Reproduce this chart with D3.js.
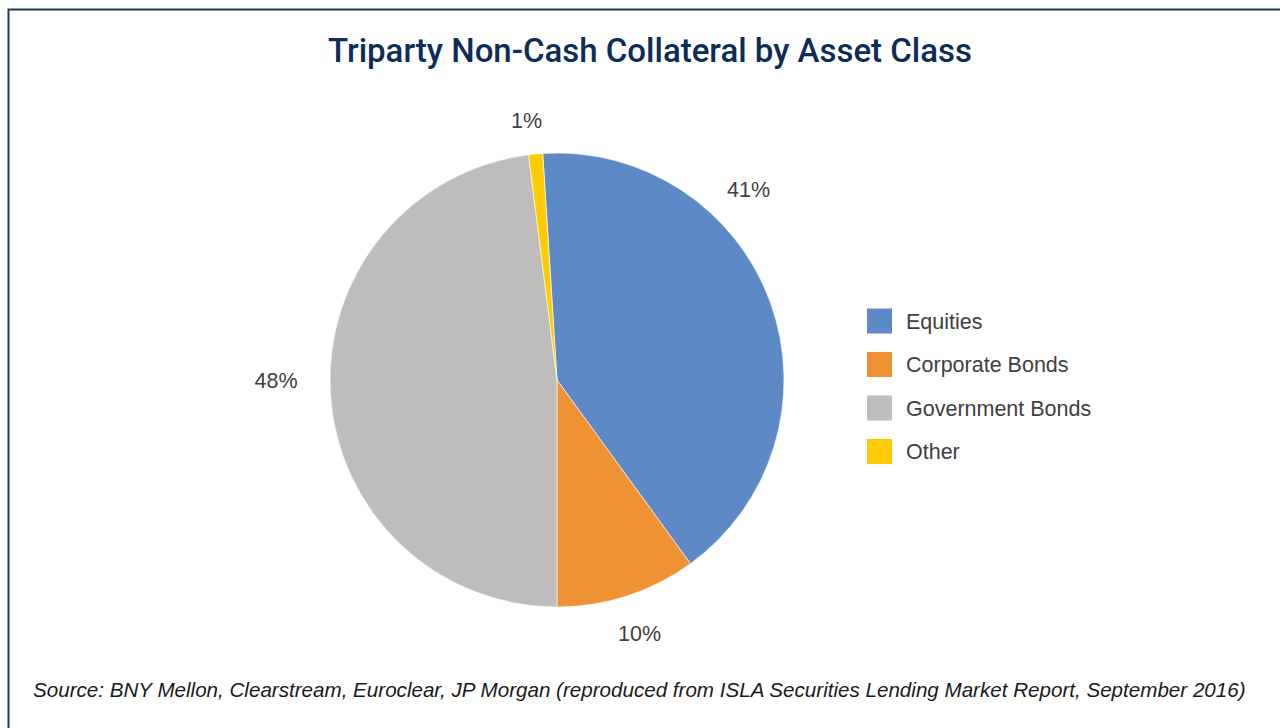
<!DOCTYPE html>
<html>
<head>
<meta charset="utf-8">
<script src="https://cdn.jsdelivr.net/npm/d3@7"></script>
<style>
  body { margin: 0; background: #fff; }
  svg { display: block; }
</style>
</head>
<body>
<script>
// data
var categories = ["Equities", "Corporate Bonds", "Government Bonds", "Other"];
var shares = [41, 10, 48, 1];
var colors = ["#5d8ac6", "#ef9234", "#bebdbc", "#fecb05"];

var W = 1280, H = 728;
var cx = 557, cy = 380, radius = 227;

var svg = d3.select("body").append("svg")
    .attr("width", W)
    .attr("height", H);

// frame: only top and left edges show
svg.append("path")
    .attr("d", "M8.5," + H + " V9.5 H" + W)
    .attr("fill", "none")
    .attr("stroke", "#1e3a62")
    .attr("stroke-width", 2);

svg.append("text")
    .attr("x", 650)
    .attr("y", 62)
    .attr("text-anchor", "middle")
    .attr("font-family", "Roboto, 'Liberation Sans', Arial, sans-serif")
    .attr("font-weight", 500)
    .attr("font-size", "33px")
    .attr("fill", "#0d2c57")
    .text("Triparty Non-Cash Collateral by Asset Class");

var data = categories.map(function(c, i) {
    return {name: c, value: shares[i], color: colors[i]};
});

// Excel style first-slice angle, slightly left of 12 o'clock
var start = -3.6 * Math.PI / 180;
var pie = d3.pie()
    .sort(null)
    .value(function(d) { return d.value; })
    .startAngle(start)
    .endAngle(start + 2 * Math.PI);

var arc = d3.arc().innerRadius(0).outerRadius(radius);

var g = svg.append("g")
    .attr("transform", "translate(" + cx + "," + cy + ")");

var arcs = pie(data);

g.selectAll("path.slice")
    .data(arcs)
    .enter()
    .append("path")
    .attr("class", "slice")
    .attr("d", arc)
    .attr("fill", function(d) { return d.data.color; })
    .attr("stroke", "#fff")
    .attr("stroke-width", 0.6);

// outside labels; the big first slice label is pulled up towards the top
var labelNudge = [-25, 0, 3.6, -1.3];
var labelDist = [270, 267, 281, 261];
g.selectAll("text.lbl")
    .data(arcs)
    .enter()
    .append("text")
    .attr("class", "lbl")
    .attr("x", function(d, i) {
        var a = (d.startAngle + d.endAngle) / 2 + labelNudge[i] * Math.PI / 180;
        return Math.sin(a) * labelDist[i];
    })
    .attr("y", function(d, i) {
        var a = (d.startAngle + d.endAngle) / 2 + labelNudge[i] * Math.PI / 180;
        return -Math.cos(a) * labelDist[i];
    })
    .attr("dy", "0.35em")
    .attr("text-anchor", "middle")
    .attr("font-family", "'Liberation Sans', Arial, sans-serif")
    .attr("font-size", "21.5px")
    .attr("fill", "#404040")
    .text(function(d) { return d.data.value + "%"; });

// legend
var legend = svg.append("g")
    .attr("transform", "translate(867,321)");

var item = legend.selectAll("g")
    .data(data)
    .enter()
    .append("g")
    .attr("transform", function(d, i) { return "translate(0," + (i * 43.5) + ")"; });

item.append("rect")
    .attr("x", 0)
    .attr("y", -12.5)
    .attr("width", 25)
    .attr("height", 25)
    .attr("fill", function(d) { return d.color; });

item.append("text")
    .attr("x", 39)
    .attr("dy", "0.35em")
    .attr("font-family", "'Liberation Sans', Arial, sans-serif")
    .attr("font-size", "21.5px")
    .attr("fill", "#404040")
    .text(function(d) { return d.name; });

svg.append("text")
    .attr("x", 33)
    .attr("y", 697)
    .attr("font-family", "'Liberation Sans', Arial, sans-serif")
    .attr("font-style", "italic")
    .attr("font-size", "20.6px")
    .attr("fill", "#1a1a1a")
    .text("Source: BNY Mellon, Clearstream, Euroclear, JP Morgan (reproduced from ISLA Securities Lending Market Report, September 2016)");
</script>
</body>
</html>
